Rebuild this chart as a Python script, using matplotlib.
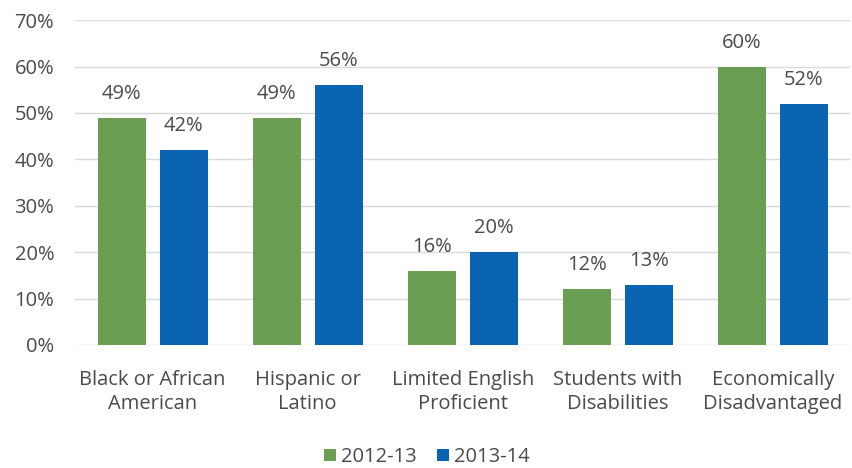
import numpy as np
import matplotlib
matplotlib.use("Agg")
import matplotlib.pyplot as plt

categories = ["Black or African\nAmerican", "Hispanic or\nLatino", "Limited English\nProficient",
              "Students with\nDisabilities", "Economically\nDisadvantaged"]
series_names = ["2012-13", "2013-14"]
vals_2012 = [49, 49, 16, 12, 60]
vals_2013 = [42, 56, 20, 13, 52]
yticks = [0, 10, 20, 30, 40, 50, 60, 70]

plt.rcParams['font.family'] = ['Open Sans', 'DejaVu Sans']
txt = '#4a4a4a'

fig = plt.figure(figsize=(8.53, 4.68), dpi=100)
ax = fig.add_axes([0.088, 0.263, 0.909, 0.694])

x = np.arange(len(categories))
w = 0.31
b1 = ax.bar(x - 0.2, vals_2012, w, color='#6a9e52', label=series_names[0], zorder=3)
b2 = ax.bar(x + 0.2, vals_2013, w, color='#0a64b2', label=series_names[1], zorder=3)

for bars in (b1, b2):
    for r in bars:
        ax.text(r.get_x() + r.get_width()/2, r.get_height() + 3, f"{int(r.get_height())}%",
                ha='center', va='bottom', fontsize=14.5, color=txt)

ax.set_ylim(0, 70)
ax.set_xlim(-0.5, 4.5)
ax.set_yticks(yticks)
ax.set_yticklabels([f"{t}%" for t in yticks])
ax.set_xticks(x)
ax.set_xticklabels(categories, linespacing=1.3)
ax.tick_params(axis='both', length=0, labelsize=14.5, labelcolor=txt)
ax.tick_params(axis='y', pad=15)
ax.tick_params(axis='x', pad=18)
ax.grid(axis='y', color='#d9d9d9', linewidth=1, zorder=0)
for s in ax.spines.values():
    s.set_visible(False)

fig.legend(loc='lower center', bbox_to_anchor=(0.5, -0.037), ncol=2, frameon=False,
           fontsize=14.5, handlelength=0.6, handleheight=0.6, handletextpad=0.25,
           columnspacing=1.0, labelcolor=txt)

fig.savefig("out.png", dpi=100)
